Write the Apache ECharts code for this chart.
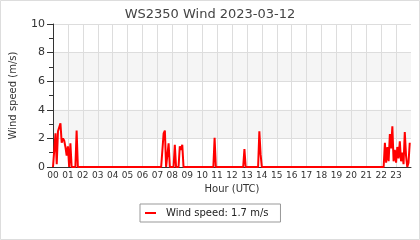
<!DOCTYPE html>
<html><head><meta charset="utf-8">
<script src="https://cdn.jsdelivr.net/npm/echarts@6/dist/echarts.min.js"></script>
<style>html,body{margin:0;padding:0;background:#fff}#c{width:420px;height:240px}</style>
</head><body><div id="c"></div><script>
const chartTitle = 'WS2350 Wind 2023-03-12';
const xAxisName = 'Hour (UTC)';
const yAxisName = 'Wind speed (m/s)';
const hourLabels = ['00','01','02','03','04','05','06','07','08','09','10','11','12','13','14','15','16','17','18','19','20','21','22','23'];
const times = ['00:00','00:10','00:15','00:20','00:25','00:30','00:35','00:40','00:45','00:50','00:55','01:00','01:05','01:10','01:15','01:30','01:35','01:40',
  '07:15','07:25','07:30','07:35','07:40','07:45','07:50','08:05','08:10','08:15','08:25','08:30','08:35','08:40','08:45',
  '10:45','10:50','10:55','12:45','12:50','12:55','13:45','13:50','13:55','14:00',
  '22:10','22:15','22:20','22:25','22:30','22:35','22:40','22:45','22:50','22:55','23:00','23:05','23:10','23:15','23:20','23:25','23:30','23:35','23:40','23:45','23:50','23:55'];
const speeds = [0,2.35,0.2,2.5,2.6,3.05,1.7,2.0,1.85,1.4,0.8,1.45,0,1.65,0,0,2.55,0,
  0,2.35,2.55,0,0,1.65,0,0,1.55,0,0,1.45,1.2,1.55,0,
  0,2.05,0,0,1.25,0,0,2.5,0.9,0,
  0,1.7,0.3,1.4,0.4,2.3,1.3,2.85,0.4,1.2,0.3,1.4,0.6,1.8,0.4,1.0,0.2,2.45,0.8,0,0.3,1.7];

const toHour = t => { const p = t.split(':'); return +p[0] + (+p[1]) / 60; };
const seriesData = times.map((t, i) => [toHour(t), speeds[i]]);
const seriesName = 'Wind speed: ' + speeds[speeds.length - 1] + ' m/s';

const chart = echarts.init(document.getElementById('c'), null, {renderer: 'canvas'});
chart.setOption({
  animation: false,
  backgroundColor: '#fff',
  textStyle: {fontFamily: 'DejaVu Sans'},
  title: {text: chartTitle, left: 'center', top: 3,
    textStyle: {fontFamily: 'DejaVu Sans', fontSize: 13, fontWeight: 'normal', color: '#444'}},
  graphic: [{type: 'rect', shape: {x: 0.5, y: 0.5, width: 419, height: 239}, silent: true,
    style: {fill: 'none', stroke: '#ddd', lineWidth: 1}, z: 100}],
  legend: {
    left: 140, top: 204, padding: [4, 12, 4, 5],
    borderColor: '#999', borderWidth: 1, borderRadius: 0,
    itemWidth: 11, itemHeight: 2, icon: 'rect',
    textStyle: {fontFamily: 'DejaVu Sans', fontSize: 10, color: '#222', padding: [0, 0, 0, 5]},
    data: [seriesName]
  },
  grid: {left: 50, right: 9, top: 24, bottom: 73, containLabel: false},
  xAxis: {
    type: 'value', min: 0, max: 24, interval: 1,
    name: xAxisName, nameLocation: 'middle', nameGap: 16,
    nameTextStyle: {fontFamily: 'DejaVu Sans', fontSize: 10, color: '#333'},
    axisLine: {show: true, lineStyle: {color: '#333', width: 1}},
    axisTick: {show: false},
    axisLabel: {fontFamily: 'DejaVu Sans', fontSize: 9, color: '#333', margin: 4,
      showMaxLabel: false, formatter: v => hourLabels[v] !== undefined ? hourLabels[v] : ''},
    splitLine: {show: true, showMaxLine: false, lineStyle: {color: '#ddd', width: 1}}
  },
  yAxis: {
    type: 'value', min: 0, max: 10, interval: 2,
    name: yAxisName, nameLocation: 'middle', nameGap: 35,
    nameTextStyle: {fontFamily: 'DejaVu Sans', fontSize: 10, color: '#333'},
    axisLine: {show: true, lineStyle: {color: '#333', width: 1}},
    axisTick: {show: true, length: 6, lineStyle: {color: '#333'}},
    minorTick: {show: true, splitNumber: 2, length: 4, lineStyle: {color: '#333'}},
    axisLabel: {fontFamily: 'DejaVu Sans', fontSize: 11, color: '#333', margin: 8},
    splitLine: {show: true, lineStyle: {color: '#ddd', width: 1}},
    splitArea: {show: true, areaStyle: {color: ['rgba(255,255,255,0)', '#f5f5f5']}}
  },
  series: [{
    name: seriesName, type: 'line', data: seriesData,
    showSymbol: false, symbol: 'none',
    lineStyle: {color: '#ff0000', width: 2},
    itemStyle: {color: '#ff0000'}
  }]
});
</script></body></html>
